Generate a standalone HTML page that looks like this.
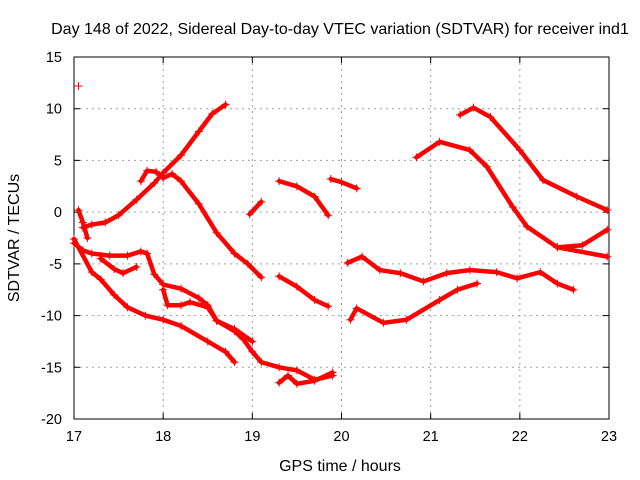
<!DOCTYPE html>
<html><head><meta charset="utf-8"><style>
body{margin:0;background:#fff}
svg{display:block;font-family:"Liberation Sans",sans-serif}
</style></head><body>
<svg id="c" width="640" height="480"></svg>
<script>
const xTicks=[17,18,19,20,21,22,23];
const yTicks=[15,10,5,0,-5,-10,-15,-20];
const segA=[[17.1,-1.5],[17.2,-1.2],[17.35,-1.0],[17.5,-0.3],[17.7,1.2],[17.9,2.8],[18.0,3.8],[18.2,5.5],[18.4,7.8],[18.55,9.5],[18.7,10.4]];
const segB=[[17.75,3.0],[17.82,4.0],[17.92,3.9],[18.0,3.3],[18.1,3.7],[18.2,3.0],[18.4,0.8],[18.6,-2],[18.8,-4],[18.95,-5],[19.1,-6.3]];
const segStart=[[17.05,0.2],[17.1,-1.0],[17.15,-2.5]];
const segC=[[17.0,-3.0],[17.1,-3.7],[17.2,-4.0],[17.4,-4.2],[17.6,-4.2],[17.75,-3.8],[17.82,-4.0],[17.9,-6.0],[18.0,-7.0],[18.2,-7.4],[18.4,-8.3],[18.5,-9.0],[18.6,-10.5],[18.8,-11.5],[18.9,-12.3],[19.0,-13.5],[19.1,-14.5],[19.3,-15.0],[19.5,-15.3],[19.7,-16.2],[19.9,-15.8]];
const segLoop=[[17.3,-4.5],[17.45,-5.5],[17.55,-5.9],[17.7,-5.3]];
const segD=[[17.0,-2.6],[17.2,-5.8],[17.3,-6.5],[17.45,-8],[17.6,-9.2],[17.8,-10.0],[18.0,-10.4],[18.2,-11.0],[18.5,-12.5],[18.7,-13.5],[18.8,-14.5]];
const segE=[[18.0,-7.5],[18.05,-9],[18.2,-9.0],[18.3,-8.7],[18.5,-9.2],[18.6,-10.5],[18.8,-11.3],[19.0,-12.5]];
const segM1=[[18.97,-0.2],[19.1,1.0]];
const segM2=[[19.3,3.0],[19.5,2.5],[19.7,1.5],[19.85,-0.3]];
const segM3=[[19.88,3.2],[20.0,2.9],[20.17,2.3]];
const segM4=[[19.3,-6.2],[19.5,-7.2],[19.7,-8.5],[19.85,-9.1]];
const segM5=[[19.3,-16.5],[19.4,-15.8],[19.5,-16.6],[19.7,-16.3],[19.9,-15.5]];
const segF=[[20.84,5.3],[21.1,6.8],[21.44,6.0],[21.63,4.4],[21.92,0.5],[22.08,-1.4],[22.42,-3.4],[22.98,-4.3]];
const segG=[[21.33,9.4],[21.48,10.1],[21.67,9.2],[22.0,6.0],[22.26,3.1],[22.64,1.5],[22.98,0.2]];
const segH=[[20.07,-4.9],[20.23,-4.3],[20.43,-5.6],[20.66,-5.9],[20.92,-6.7],[21.18,-5.9],[21.44,-5.6],[21.74,-5.8],[21.97,-6.4],[22.23,-5.8],[22.42,-6.9],[22.6,-7.5]];
const segI=[[20.1,-10.4],[20.17,-9.3],[20.47,-10.7],[20.73,-10.4],[21.1,-8.5],[21.3,-7.5],[21.52,-6.9]];
const segJ=[[22.42,-3.4],[22.7,-3.2],[22.98,-1.7]];
const segOut=[[17.05,12.2]];
const series=[segA,segB,segStart,segC,segLoop,segD,segE,segM1,segM2,segM3,segM4,segM5,segF,segG,segH,segI,segJ,segOut];

const L=74,R=609,T=57,B=419;
const X=v=>L+(v-17)/6*(R-L);
const Y=v=>T+(15-v)/35*(B-T);
const svg=document.getElementById('c');
const NS='http://www.w3.org/2000/svg';
function mk(t,a){const e=document.createElementNS(NS,t);for(const k in a)e.setAttribute(k,a[k]);svg.appendChild(e);return e;}
xTicks.forEach(t=>{
 const x=X(t);
 if(t>17&&t<23){const g=mk('line',{x1:x,x2:x,y1:T,y2:B,stroke:'#a0a0a0','stroke-dasharray':'2,4'});
 }
 const tk=mk('path',{d:`M${x} ${B}v-6M${x} ${T}v6`,stroke:'#000'});
 
 const lb=mk('text',{x:x,y:B+22,'text-anchor':'middle','font-size':14.5});lb.textContent=t;
 
});
yTicks.forEach(t=>{
 const y=Y(t);
 if(t<15&&t>-20){const g=mk('line',{x1:L,x2:R,y1:y,y2:y,stroke:'#a0a0a0','stroke-dasharray':'2,4'});
 }
 const tk=mk('path',{d:`M${L} ${y}h6M${R} ${y}h-6`,stroke:'#000'});
 
 const lb=mk('text',{x:L-12,y:y+5,'text-anchor':'end','font-size':14.5});lb.textContent=t;
 
});
const fr=mk('rect',{x:L,y:T,width:R-L,height:B-T,fill:'none',stroke:'#000'});

series.forEach(s=>{
 const pl=mk('polyline',{points:s.map(p=>X(p[0])+','+Y(p[1])).join(' '),fill:'none',stroke:'#f00','stroke-width':4.5,'stroke-linejoin':'round','stroke-linecap':'round'});
 
 s.forEach(p=>{
  const m=mk('path',{d:`M${X(p[0])-4} ${Y(p[1])}h8M${X(p[0])} ${Y(p[1])-4}v8`,stroke:'#f00','stroke-width':1});
  
 });
});
const ti=mk('text',{x:340,y:34,'text-anchor':'middle','font-size':16});
ti.textContent='Day 148 of 2022, Sidereal Day-to-day VTEC variation (SDTVAR) for receiver ind1';

const xt=mk('text',{x:340,y:471,'text-anchor':'middle','font-size':16});xt.textContent='GPS time / hours';

const yt=mk('text',{x:0,y:0,'text-anchor':'middle','font-size':16,transform:'translate(19,238) rotate(-90)'});yt.textContent='SDTVAR / TECUs';

</script>
</body></html>
